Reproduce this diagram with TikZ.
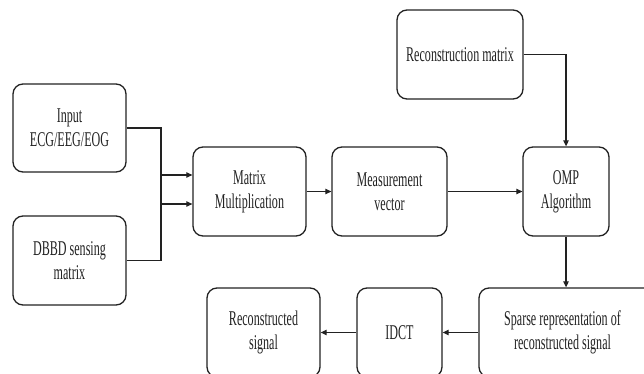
\documentclass[tikz,border=0pt]{standalone}
\usepackage{fontspec}
\setmainfont{Liberation Serif}[FakeStretch=0.575]
\usetikzlibrary{arrows.meta}
\definecolor{ink}{HTML}{222222}
\tikzset{
  blk/.style={draw=ink, line width=1.3pt, rounded corners=10pt, align=center,
    text=ink, font=\fontsize{21}{24}\selectfont, inner sep=0pt},
  txt/.style={align=center, text=ink, font=\fontsize{21}{24}\selectfont, inner sep=0pt},
  flow/.style={draw=ink, line width=1.2pt,
    -{Triangle[length=6pt,width=5.5pt]}}
}
\begin{document}
\begin{tikzpicture}[x=1pt, y=-1pt]
\useasboundingbox (0,0) rectangle (644,374);
\clip (0,0) rectangle (644,374);

% blocks (centres and sizes in pt)
\node[blk, minimum width=113pt, minimum height=88pt] (inp)  at (69.5,128)   {Input\\ECG/EEG/EOG};
\node[blk, minimum width=113pt, minimum height=89pt] (dbbd) at (69.5,260.5) {DBBD sensing\\matrix};
\node[blk, minimum width=113pt, minimum height=89pt] (mm)   at (249.5,191.5) {Matrix\\Multiplication};
\node[blk, minimum width=115pt, minimum height=89pt] (mv)   at (389.5,191.5) {Measurement\\vector};
\node[blk, minimum width=86pt,  minimum height=89pt] (omp)  at (566,191.5)   {OMP\\Algorithm};
\node[blk, minimum width=126pt, minimum height=89pt] (rm)   at (460,54.5)    {Reconstruction matrix};
\node[blk, minimum width=113pt, minimum height=89pt] (rs)   at (263.5,332.5) {Reconstructed\\signal};
\node[blk, minimum width=85pt,  minimum height=89pt] (idct) at (399.5,332.5) {IDCT};
% the last block runs past the right margin; its text sits left of the box centre
\node[blk, minimum width=200pt, minimum height=89pt] (sp)   at (579,332.5)   {};
\node[txt] (sptext) at (562.5,332.5) {Sparse representation of\\reconstructed signal};

% connectors
\draw[flow] (inp.east) -- (161,128) |- ([yshift=-12.5pt]mm.west);
\draw[flow] (dbbd.east) -- (161,260.5) |- ([yshift=16.5pt]mm.west);
\draw[flow] (mm.east) -- (mv.west);
\draw[flow] (mv.east) -- (omp.west);
\draw[flow] (rm.east) -| (omp.north);
\draw[flow] (omp.south) -- (omp.south |- sp.north);
\draw[flow] (sp.west) -- (idct.east);
\draw[flow] (idct.west) -- (rs.east);
\end{tikzpicture}
\end{document}
